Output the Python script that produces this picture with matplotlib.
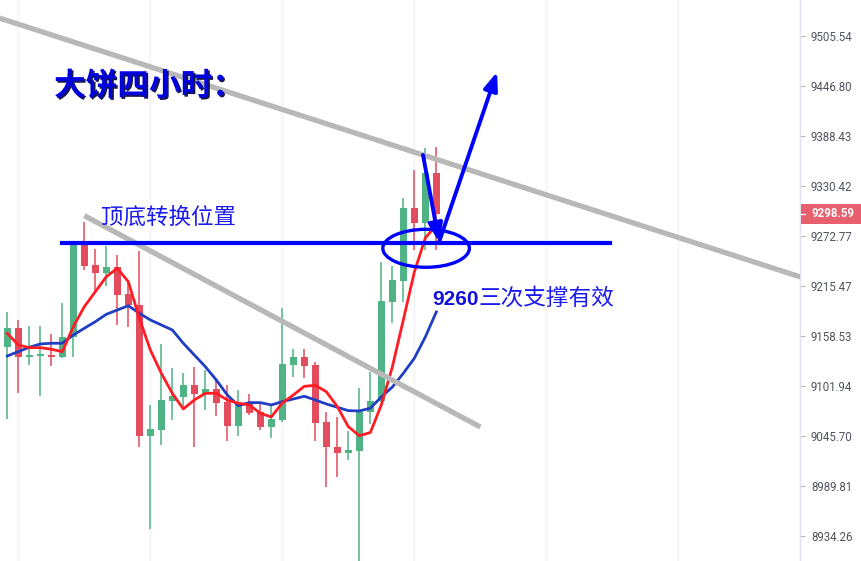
import matplotlib
matplotlib.use('Agg')
import matplotlib.pyplot as plt
from matplotlib.patches import Ellipse, Rectangle
from matplotlib.ticker import FixedLocator, NullLocator, FixedFormatter, NullFormatter
import matplotlib.patheffects as pe

# ---------------- data ----------------
opens = [9145.7, 9167.3, 9134.4, 9136.2, 9136.7, 9135.1, 9157.1, 9262.5, 9239.5, 9230.0,
         9237.6, 9206.4, 9193.8, 9046.0, 9052.5, 9085.4, 9089.9, 9103.1, 9092.9, 9098.6,
         9083.6, 9057.3, 9083.9, 9073.0, 9056.2, 9063.7, 9126.1, 9134.8, 9125.7, 9061.1,
         9033.4, 9027.0, 9029.3, 9072.7, 9085.1, 9197.6, 9221.6, 9304.7, 9288.1, 9345.2]
highs = [9186.2, 9176.8, 9169.9, 9169.9, 9160.8, 9196.5, 9266.0, 9289.3, 9257.9, 9261.3,
         9251.0, 9218.9, 9255.9, 9080.6, 9149.1, 9122.0, 9117.0, 9123.8, 9120.1, 9110.7,
         9103.1, 9097.4, 9092.9, 9082.5, 9080.6, 9190.8, 9143.8, 9143.8, 9128.8, 9073.0,
         9066.7, 9051.7, 9099.4, 9118.1, 9243.0, 9238.4, 9316.2, 9349.0, 9374.2, 9376.0]
lows = [9064.5, 9094.1, 9125.7, 9090.7, 9124.9, 9134.0, 9135.1, 9233.8, 9210.1, 9215.5,
        9171.1, 9169.1, 9033.7, 8941.7, 9035.6, 9063.7, 9078.7, 9033.1, 9074.9, 9068.2,
        9040.5, 9046.0, 9069.0, 9052.5, 9043.1, 9061.8, 9112.5, 9111.3, 9040.5, 8989.0,
        8999.5, 9018.9, 8905.0, 9059.2, 9084.0, 9173.7, 9197.6, 9256.7, 9256.7, 9256.7]
closes = [9167.3, 9134.4, 9136.7, 9138.2, 9134.8, 9157.7, 9263.6, 9238.7, 9230.0, 9237.6,
          9205.2, 9193.8, 9046.0, 9053.6, 9086.2, 9090.7, 9103.1, 9092.9, 9098.2, 9083.2,
          9057.3, 9083.2, 9071.9, 9056.2, 9064.8, 9126.8, 9134.8, 9124.9, 9060.7, 9033.1,
          9027.0, 9029.7, 9072.4, 9085.1, 9198.4, 9222.4, 9304.7, 9288.1, 9345.2, 9298.59]
ma_red = [9161.6, 9148.3, 9145.3, 9145.3, 9143.5, 9140.8, 9169.1, 9191.9, 9209.0, 9226.1,
          9235.8, 9220.4, 9179.0, 9142.7, 9116.3, 9093.7, 9076.1, 9086.2, 9093.7, 9093.7,
          9086.2, 9082.5, 9080.6, 9071.2, 9067.1, 9082.8, 9091.8, 9101.6, 9102.7, 9095.5,
          9078.7, 9056.2, 9046.0, 9049.6, 9080.6, 9123.4, 9176.8, 9231.5, 9270.5, 9285.5]
ma_blue = [9135.9, 9140.8, 9145.7, 9149.5, 9150.3, 9150.3, 9159.7, 9167.3, 9174.8, 9183.2,
           9188.1, 9193.0, 9184.4, 9176.8, 9171.1, 9165.4, 9150.3, 9137.0, 9123.8, 9108.7,
           9091.8, 9079.8, 9083.2, 9083.2, 9080.6, 9084.3, 9087.3, 9090.4, 9086.2, 9081.7,
           9078.0, 9074.2, 9073.8, 9076.9, 9089.6, 9100.8, 9116.3, 9133.3, 9157.4, 9185.9]
y_ticks = [9505.54, 9446.80, 9388.43, 9330.42, 9272.77, 9215.47, 9158.53,
           9101.94, 9045.70, 8989.81, 8934.26]
y_tick_labels = ["9505.54", "9446.80", "9388.43", "9330.42", "9272.77", "9215.47",
                 "9158.53", "9101.94", "9045.70", "8989.81", "8934.26"]
last_price = 9298.59
last_label = "9298.59"

# drawings (index, price)
upper_trend_x = [-0.7, 72.1]
upper_trend_y = [9526.7, 9225.8]
lower_trend_x = [7.0, 43.0]
lower_trend_y = [9296.2, 9055.8]
support_x = [5.0, 54.8]
support_price = 9265.0
ellipse_center = (38.07, 9258.7)
ellipse_size = (7.87, 43.6)
arrow1 = [(37.79, 9366.4), (39.25, 9265.9)]
arrow2 = [(39.25, 9265.9), (44.52, 9463.3)]
grid_idx = [1, 13, 25, 37, 49, 61]

title_text = "大饼四小时："
label_text = "顶底转换位置"
support_num = "9260"
support_text = "三次支撑有效"

# ---------------- drawing ----------------
W, H = 861, 561
plt.rcParams['font.family'] = ['Noto Sans CJK SC', 'DejaVu Sans']
fig = plt.figure(figsize=(W / 100, H / 100), dpi=100)
fig.patch.set_facecolor('white')
ax = fig.add_axes([0, 0, 800 / W, 1])

GREEN = '#4fb385'
RED = '#e34c5c'
n = len(opens)
idx = list(range(n))
colors = [GREEN if c >= o else RED for o, c in zip(opens, closes)]
bottoms = [min(o, c) for o, c in zip(opens, closes)]
heights = [max(abs(c - o), 0.8) for o, c in zip(opens, closes)]

ax.set_yscale('log')
ax.vlines(idx, lows, highs, colors=colors, linewidth=1.1, zorder=2)
ax.bar(idx, heights, bottom=bottoms, width=0.66, color=colors, linewidth=0, zorder=2.5)

ax.plot(idx, ma_blue, color='#1f3ec4', lw=2.0, zorder=3, solid_joinstyle='round')
ax.plot(idx, ma_red, color='#ff1c24', lw=2.0, zorder=3, solid_joinstyle='round')

ax.plot(upper_trend_x, upper_trend_y, color='#b8b8b8', lw=3.8, zorder=4, solid_capstyle='butt')
ax.plot(lower_trend_x, lower_trend_y, color='#b8b8b8', lw=3.8, zorder=4, solid_capstyle='butt')
ax.plot(support_x, [support_price, support_price], color='#0000ff', lw=3.0, zorder=5)
ax.add_patch(Ellipse(ellipse_center, ellipse_size[0], ellipse_size[1], fill=False,
                     edgecolor='#0000ff', lw=2.4, zorder=5))
for (p0, p1) in (arrow1, arrow2):
    ax.annotate('', xy=p1, xytext=p0,
                arrowprops=dict(arrowstyle='-|>,head_length=0.9,head_width=0.35',
                                color='#0000ff', lw=2.8, shrinkA=0, shrinkB=0,
                                mutation_scale=12),
                zorder=6)

ax.set_xlim(-0.664, 72.06)
ax.set_ylim(8906.6, 9548.1)

ax.set_xticks(grid_idx)
ax.xaxis.set_major_formatter(NullFormatter())
ax.tick_params(axis='x', length=0)
ax.grid(axis='x', color='#f0f2f6', lw=1)
ax.set_axisbelow(True)

ax.yaxis.tick_right()
ax.yaxis.set_major_locator(FixedLocator(y_ticks))
ax.yaxis.set_major_formatter(FixedFormatter(y_tick_labels))
ax.yaxis.set_minor_locator(NullLocator())
ax.yaxis.set_minor_formatter(NullFormatter())
ax.tick_params(axis='y', length=3.6, width=0.8, color='#b2b5be', pad=4.3,
               labelsize=8.3, labelcolor='#50535e')
for lab in ax.get_yticklabels():
    lab.set_fontfamily(['Roboto', 'DejaVu Sans'])
for s in ('top', 'left', 'bottom'):
    ax.spines[s].set_visible(False)
ax.spines['right'].set_color('#e0e3eb')
ax.spines['right'].set_linewidth(1)

# last price label
fig.canvas.draw()
yd = ax.transData.transform((0, last_price))[1]
fig.patches.append(Rectangle((801 / W, (yd - 10) / H), 60 / W, 20 / H,
                             transform=fig.transFigure, facecolor='#e8606e',
                             edgecolor='none', zorder=5))
fig.lines.append(plt.Line2D([801 / W, 805 / W], [yd / H, yd / H], transform=fig.transFigure,
                            color='white', lw=0.9, zorder=6))
fig.text(811 / W, yd / H, last_label, color='white', fontsize=8.3, fontweight='bold',
         family=['Roboto', 'DejaVu Sans'], va='center', ha='left', zorder=7)

# texts
shadow = [pe.SimplePatchShadow(offset=(1.2, -1.2), shadow_rgbFace='#000033', alpha=0.9), pe.Normal()]
fig.text(54 / W, 1 - 95.5 / H, title_text, color='#0000dd', fontsize=22.8, fontweight='bold',
         va='baseline', ha='left', path_effects=shadow)
fig.text(101 / W, 1 - 223.5 / H, label_text, color='#1a1aee', fontsize=16.2,
         va='baseline', ha='left')
fig.text(432 / W, 1 - 305 / H, support_num, color='#1010e0', fontsize=15, fontweight='bold',
         family=['Liberation Sans', 'DejaVu Sans'], va='baseline', ha='left')
fig.text(479 / W, 1 - 304.5 / H, support_text, color='#1a1aee', fontsize=16.3,
         va='baseline', ha='left')

fig.savefig('out.png', dpi=100, facecolor='white')
